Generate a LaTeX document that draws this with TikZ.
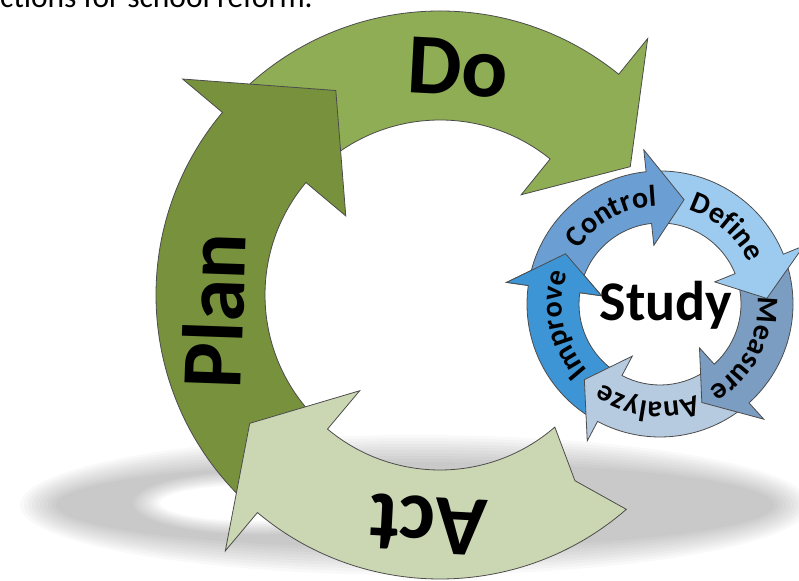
\documentclass[tikz,border=0pt]{standalone}
\usepackage{fontspec}
\setmainfont{Carlito}
\usetikzlibrary{decorations.text}

\definecolor{plangreen}{HTML}{77913D}
\definecolor{dogreen}{HTML}{8FAD55}
\definecolor{actgreen}{HTML}{CBD7B3}
\definecolor{controlblue}{HTML}{6B9FD3}
\definecolor{defineblue}{HTML}{9DCBF0}
\definecolor{measureblue}{HTML}{7B9DC2}
\definecolor{analyzeblue}{HTML}{B6CAE0}
\definecolor{improveblue}{HTML}{3D95D5}

\newcommand{\cyclefont}{\fontsize{30}{30}\selectfont\bfseries}
% style, inner r, outer r, tail, notch, head base, tip, barb
\newcommand{\ringarrow}[8]{%
  \draw[rim,#1] (#4:#3) arc[start angle=#4, end angle=#6, radius=#3]
    -- (#6:{#3+#8}) -- (#7:{(#2+#3)/2}) -- (#6:{#2-#8}) -- (#6:#2)
    arc[start angle=#6, end angle=#4, radius=#2] -- (#5:{(#2+#3)/2}) -- cycle;}
% colour, inner r, outer r, head base, tip, barb
\newcommand{\ringhead}[6]{%
  \fill[#1] (#4:#3) -- (#4:{#3+#6}) -- (#5:{(#2+#3)/2}) -- (#4:{#2-#6}) -- (#4:#2) -- cycle;
  \draw[rim] (#4:#3) -- (#4:{#3+#6}) -- (#5:{(#2+#3)/2}) -- (#4:{#2-#6}) -- (#4:#2);}

\begin{document}
\begin{tikzpicture}[x=1pt,y=1pt]
\tikzstyle{rim}=[draw=black!70,line width=0.8pt]
\tikzstyle{bigword}=[font=\fontsize{86}{86}\selectfont\bfseries,inner sep=0pt]
\clip (0,0) rectangle (799,580);

% shadow under the ring
\foreach \k in {0,...,9}
  \fill[black,opacity=0.022,even odd rule] (415,75) ellipse[x radius={395-4*\k}, y radius={70-3*\k}]
    (255,77) ellipse[x radius={95+3*\k}, y radius={18+1.5*\k}];

\node[anchor=base west,inner sep=0pt,font=\fontsize{31.5}{31.5}\selectfont] (intro) at (0,572.5) {ctions for school reform.};

% big cycle
\begin{scope}[shift={(440,285)}]
\ringarrow{fill=dogreen}{175}{284}{137}{137}{51}{34}{46}
\ringarrow{fill=plangreen}{175}{284}{226}{226}{140}{117}{52}
\ringarrow{fill=actgreen}{175}{284}{311}{306}{230}{214}{50}
\node[bigword,rotate=-3] (do) at (85.5:228) {Do};
\node[bigword,rotate=88] (plan) at (184:227) {Plan};
\node[bigword,rotate=177] (act) at (267:230) {Act};
\end{scope}

% small cycle
\begin{scope}[shift={(660,276)}]
\ringarrow{fill=improveblue}{81}{133}{238}{238}{172}{152}{22}
\ringarrow{fill=analyzeblue}{81}{133}{308}{308}{242}{225}{22}
\ringarrow{fill=measureblue}{81}{133}{18}{18}{-48}{-67}{22}
\ringarrow{fill=defineblue}{81}{133}{92}{92}{22}{3}{22}
\ringarrow{fill=controlblue}{81}{133}{168}{168}{96}{77}{22}
\ringhead{improveblue}{81}{133}{172}{152}{22}
\path[decorate,decoration={text along path,text align=center,text={|\cyclefont|Control}}] (189:98) arc[start angle=189, end angle=49, radius=98];
\path[decorate,decoration={text along path,text align=center,text={|\cyclefont|Define}}] (119:98) arc[start angle=119, end angle=-21, radius=98];
\path[decorate,decoration={text along path,text align=center,text={|\cyclefont|Measure}}] (42:98) arc[start angle=42, end angle=-98, radius=98];
\path[decorate,decoration={text along path,text align=center,text={|\cyclefont|Analyze}}] (-27:98) arc[start angle=-27, end angle=-167, radius=98];
\path[decorate,decoration={text along path,text align=center,text={|\cyclefont|Improve}}] (262:98) arc[start angle=262, end angle=122, radius=98];
\node[font=\fontsize{56}{56}\selectfont\bfseries,inner sep=0pt] (study) at (6,-1) {Study};
\end{scope}
\end{tikzpicture}
\end{document}
